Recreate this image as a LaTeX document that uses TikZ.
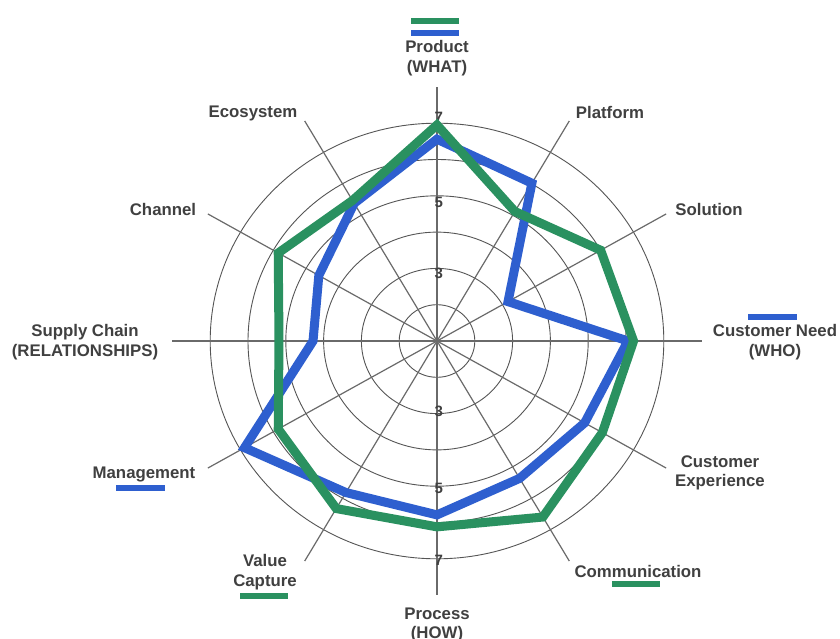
\documentclass[tikz,border=0pt]{standalone}
\usepackage{fontspec}
\setmainfont{Liberation Sans}
\definecolor{sergreen}{HTML}{2A9160}
\definecolor{serblue}{HTML}{2E5FCF}
\definecolor{labgray}{HTML}{404040}
\definecolor{gridgray}{HTML}{555555}
\definecolor{axisgray}{HTML}{6A6A6A}
\tikzset{
  lbl/.style={font=\bfseries\fontsize{16.8}{19.5}\selectfont, text=labgray, align=center, inner sep=0pt},
  tick/.style={font=\bfseries\fontsize{15}{15}\selectfont, text=labgray, inner sep=0pt},
  ring/.style={draw=gridgray, line width=0.9pt},
  spoke/.style={draw=axisgray, line width=1.2pt},
  greenser/.style={draw=sergreen, line width=9pt, line join=miter},
  blueser/.style={draw=serblue, line width=9pt, line join=miter},
  gbar/.style={draw=sergreen, line width=5.5pt},
  bbar/.style={draw=serblue, line width=5.5pt}
}
\begin{document}
\begin{tikzpicture}[x=1pt,y=-1pt]
\useasboundingbox (0,0) rectangle (840,639);
\fill[white] (0,0) rectangle (840,639);
\begin{scope}[shift={(437,341)}, x=37.8pt, y=36.3pt]
  % rings
  \foreach \k in {1,...,6}
    \draw[ring] (0,0) ellipse [x radius=\k*37.8pt, y radius=\k*36.3pt];
  % spokes
  \foreach \a in {0,30,...,330}
    \draw[spoke] (0,0) -- (\a:7);
  % tick labels
  \node[tick] (t7u) at (0.05,6.15) {7};
  \node[tick] (t5u) at (0.05,3.83) {5};
  \node[tick] (t3u) at (0.05,1.87) {3};
  \node[tick] (t3d) at (0.05,-1.95) {3};
  \node[tick] (t5d) at (0.05,-4.05) {5};
  \node[tick] (t7d) at (0.05,-6.03) {7};
  % blue series
  \draw[blueser] (90:5.56) -- (60:5.02) -- (30:2.17) -- (0:5.05) -- (-30:4.51)
     -- (-60:4.37) -- (-90:4.79) -- (-120:4.82) -- (-150:5.88) -- (180:3.28)
     -- (150:3.61) -- (120:4.38) -- cycle;
  % green series
  \draw[greenser] (90:5.95) -- (60:4.12) -- (30:5.0) -- (0:5.2) -- (-30:5.05)
     -- (-60:5.6) -- (-90:5.12) -- (-120:5.33) -- (-150:4.85) -- (180:4.18)
     -- (150:4.85) -- (120:4.47) -- cycle;
\end{scope}
% category labels
\node[lbl] (product) at (437,58) {Product\\(WHAT)};
\node[lbl] (platform) at (610,112) {Platform};
\node[lbl] (solution) at (709,209) {Solution};
\node[lbl] (custneed) at (775,342) {Customer Need\\(WHO)};
\node[lbl] (custexp) at (720,473) {Customer\\Experience};
\node[lbl] (comm) at (638,571) {Communication};
\node[lbl] (process) at (437,625) {Process\\(HOW)};
\node[lbl] (valcap) at (265,572) {Value\\Capture};
\node[lbl] (mgmt) at (144,474) {Management};
\node[lbl] (supply) at (85,342) {Supply Chain\\(RELATIONSHIPS)};
\node[lbl] (channel) at (163,209) {Channel};
\node[lbl] (ecosys) at (253,113) {Ecosystem};
% legend bars
\draw[gbar] (411,21) -- (459,21);
\draw[bbar] (411,33) -- (459,33);
\draw[bbar] (748,317) -- (797,317);
\draw[bbar] (116,488) -- (165,488);
\draw[gbar] (240,596) -- (288,596);
\draw[gbar] (612,584) -- (660,584);
\end{tikzpicture}
\end{document}
